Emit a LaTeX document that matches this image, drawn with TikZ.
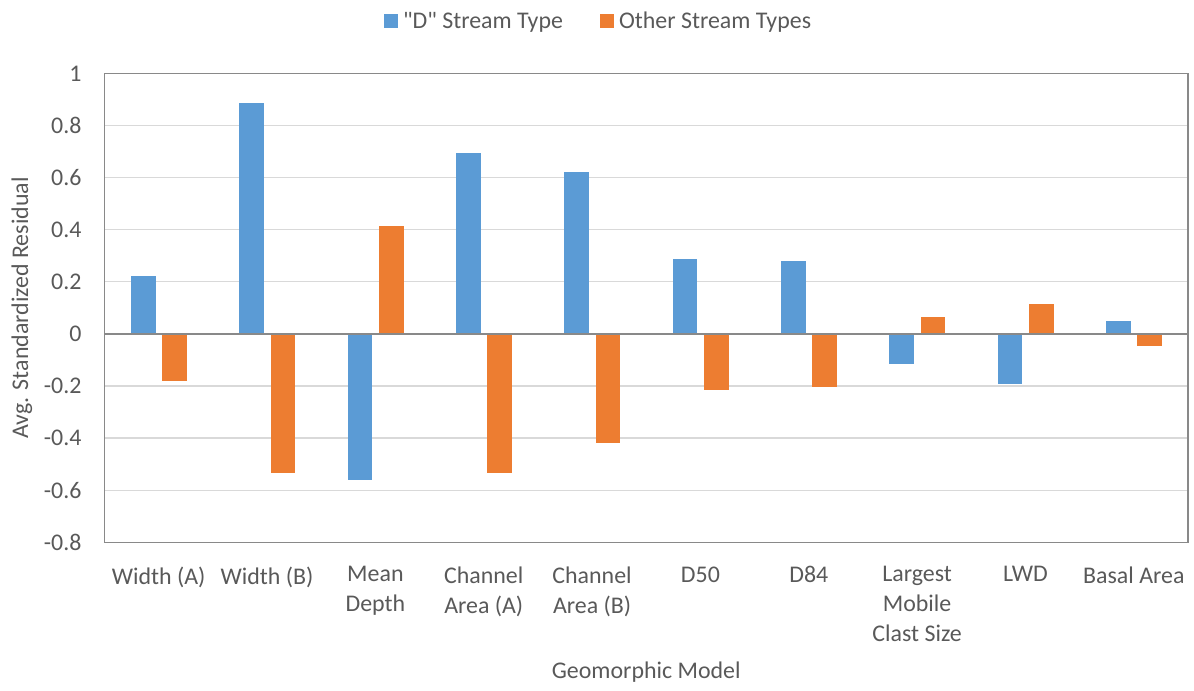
\documentclass[tikz,border=0pt]{standalone}
\usepackage{fontspec}
\setmainfont{Carlito}
\newfontfamily\plainquotes{Carlito}
\definecolor{dblue}{HTML}{5B9BD5}
\definecolor{oorange}{HTML}{ED7D31}
\definecolor{txtgray}{HTML}{595959}
\definecolor{gridgray}{HTML}{D9D9D9}
\definecolor{axisgray}{HTML}{898989}
\tikzset{
  lbl/.style = {text=txtgray, font=\fontsize{17}{21.3}\selectfont,
                inner sep=0pt, outer sep=0pt},
  grid line/.style = {gridgray, line width=1pt},
  ticklbl/.style = {lbl, anchor=east},
  catlbl/.style = {lbl, anchor=north, align=center}
}

\begin{document}
\begin{tikzpicture}[x=0.025cm, y=6.5125cm]
	\def \cw{108.35} % category width
	\def \xl{104.5}  % left of plot area
	\def \xr{1188}   % right of plot area
	\def \bw{24.5}   % bar width
	\def \bo{26.5}   % offset of blue bar
	\def \oo{57.8}   % offset of orange bar
	\def \ty{-0.893} % top of category labels

	\useasboundingbox (0,-1.3674) rectangle (1194,1.2814);

	% Grid
	\draw[grid line] (\xl, 0.8) -- (\xr, 0.8);
	\draw[grid line] (\xl, 0.6) -- (\xr, 0.6);
	\draw[grid line] (\xl, 0.4) -- (\xr, 0.4);
	\draw[grid line] (\xl, 0.2) -- (\xr, 0.2);
	\draw[grid line] (\xl,-0.2) -- (\xr,-0.2);
	\draw[grid line] (\xl,-0.4) -- (\xr,-0.4);
	\draw[grid line] (\xl,-0.6) -- (\xr,-0.6);

	% "D" stream type
	\fill[dblue] (\xl+0*\cw+\bo,0) rectangle ++(\bw, 0.223); % Width (A)
	\fill[dblue] (\xl+1*\cw+\bo,0) rectangle ++(\bw, 0.885); % Width (B)
	\fill[dblue] (\xl+2*\cw+\bo,0) rectangle ++(\bw,-0.562); % Mean Depth
	\fill[dblue] (\xl+3*\cw+\bo,0) rectangle ++(\bw, 0.695); % Channel Area (A)
	\fill[dblue] (\xl+4*\cw+\bo,0) rectangle ++(\bw, 0.621); % Channel Area (B)
	\fill[dblue] (\xl+5*\cw+\bo,0) rectangle ++(\bw, 0.286); % D50
	\fill[dblue] (\xl+6*\cw+\bo,0) rectangle ++(\bw, 0.279); % D84
	\fill[dblue] (\xl+7*\cw+\bo,0) rectangle ++(\bw,-0.116); % Largest
	\fill[dblue] (\xl+8*\cw+\bo,0) rectangle ++(\bw,-0.193); % LWD
	\fill[dblue] (\xl+9*\cw+\bo,0) rectangle ++(\bw, 0.050); % Basal Area

	% Other stream types
	\fill[oorange] (\xl+0*\cw+\oo,0) rectangle ++(\bw,-0.180);
	\fill[oorange] (\xl+1*\cw+\oo,0) rectangle ++(\bw,-0.533);
	\fill[oorange] (\xl+2*\cw+\oo,0) rectangle ++(\bw, 0.413);
	\fill[oorange] (\xl+3*\cw+\oo,0) rectangle ++(\bw,-0.533);
	\fill[oorange] (\xl+4*\cw+\oo,0) rectangle ++(\bw,-0.418);
	\fill[oorange] (\xl+5*\cw+\oo,0) rectangle ++(\bw,-0.217);
	\fill[oorange] (\xl+6*\cw+\oo,0) rectangle ++(\bw,-0.205);
	\fill[oorange] (\xl+7*\cw+\oo,0) rectangle ++(\bw, 0.064);
	\fill[oorange] (\xl+8*\cw+\oo,0) rectangle ++(\bw, 0.113);
	\fill[oorange] (\xl+9*\cw+\oo,0) rectangle ++(\bw,-0.047);

	% Zero line and frame
	\draw[axisgray, line width=1.1pt] (\xl,0) -- (\xr,0);
	\draw[axisgray, line width=1.1pt] (\xl,-0.8) rectangle (\xr,1);

	% Tick labels
	\node[ticklbl] (t10) at (81.5, 1.0) {1};
	\node[ticklbl] (t08) at (81.5, 0.8) {0.8};
	\node[ticklbl] (t06) at (81.5, 0.6) {0.6};
	\node[ticklbl] (t04) at (81.5, 0.4) {0.4};
	\node[ticklbl] (t02) at (81.5, 0.2) {0.2};
	\node[ticklbl] (t00) at (81.5, 0.0) {0};
	\node[ticklbl] (tm2) at (81.5,-0.2) {-0.2};
	\node[ticklbl] (tm4) at (81.5,-0.4) {-0.4};
	\node[ticklbl] (tm6) at (81.5,-0.6) {-0.6};
	\node[ticklbl] (tm8) at (81.5,-0.8) {-0.8};

	% Category labels
	\node[catlbl] (wa)  at (\xl+0.5*\cw,\ty) {Width (A)};
	\node[catlbl] (wb)  at (\xl+1.5*\cw,\ty) {Width (B)};
	\node[catlbl] (md)  at (\xl+2.5*\cw,\ty) {Mean\\Depth};
	\node[catlbl] (ca)  at (\xl+3.5*\cw,\ty) {Channel\\Area (A)};
	\node[catlbl] (cb)  at (\xl+4.5*\cw,\ty) {Channel\\Area (B)};
	\node[catlbl] (d50) at (\xl+5.5*\cw,\ty) {D50};
	\node[catlbl] (d84) at (\xl+6.5*\cw,\ty) {D84};
	\node[catlbl] (lmc) at (\xl+7.5*\cw,\ty) {Largest\\Mobile\\Clast Size};
	\node[catlbl] (lwd) at (\xl+8.5*\cw,\ty) {LWD};
	\node[catlbl] (ba)  at (\xl+9.5*\cw,\ty) {Basal Area};

	% Axis titles
	\node[lbl, rotate=90] (ytitle) at (22,0.1) {Avg. Standardized Residual};
	\node[lbl] (xtitle) at (646.25,-1.298) {Geomorphic Model};

	% Legend
	\fill[dblue] (384.3,1.174) rectangle (398.3,1.228);
	\node[lbl, anchor=base west] (legd) at (403,1.1727) {{\plainquotes"D"} Stream Type};
	\fill[oorange] (600,1.174) rectangle (614,1.228);
	\node[lbl, anchor=base west] (lego) at (619,1.1727) {Other Stream Types};
\end{tikzpicture}
\end{document}
